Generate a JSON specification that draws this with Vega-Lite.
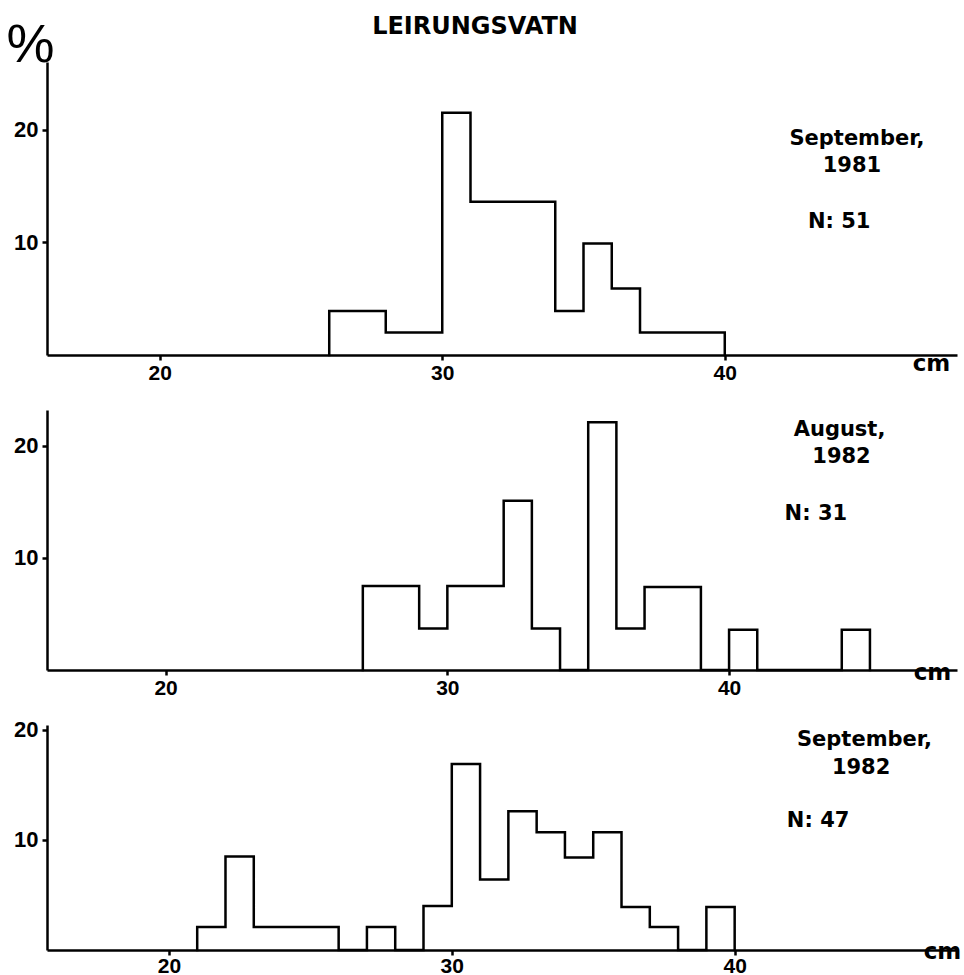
{
  "$schema": "https://vega.github.io/schema/vega-lite/v6.json",
  "background": "white",
  "padding": {"left": 5, "top": 15, "right": 0, "bottom": 0},
  "bounds": "flush",
  "spacing": 55,
  "config": {
    "view": {"stroke": null},
    "axis": {
      "grid": false,
      "domainColor": "black",
      "domainWidth": 2.5,
      "tickColor": "black",
      "tickWidth": 2.5,
      "tickSize": 5,
      "labelColor": "black",
      "labelFont": "Liberation Sans",
      "labelFontWeight": "bold",
      "labelFontSize": 21,
      "titleColor": "black"
    },
    "axisY": {"labelPadding": 4, "labelFontSize": 22},
    "axisX": {"labelPadding": 2}
  },
  "datasets": {
    "hist": [
      {"panel": 1, "seq": 1, "len": 26, "pct": 0},
      {"panel": 1, "seq": 2, "len": 26, "pct": 3.9},
      {"panel": 1, "seq": 3, "len": 28, "pct": 2.0},
      {"panel": 1, "seq": 4, "len": 30, "pct": 21.5},
      {"panel": 1, "seq": 5, "len": 31, "pct": 13.6},
      {"panel": 1, "seq": 6, "len": 34, "pct": 3.9},
      {"panel": 1, "seq": 7, "len": 35, "pct": 9.9},
      {"panel": 1, "seq": 8, "len": 36, "pct": 5.9},
      {"panel": 1, "seq": 9, "len": 37, "pct": 2.0},
      {"panel": 1, "seq": 10, "len": 40, "pct": 0},

      {"panel": 2, "seq": 1, "len": 27, "pct": 0},
      {"panel": 2, "seq": 2, "len": 27, "pct": 7.5},
      {"panel": 2, "seq": 3, "len": 29, "pct": 3.7},
      {"panel": 2, "seq": 4, "len": 30, "pct": 7.5},
      {"panel": 2, "seq": 5, "len": 32, "pct": 15.1},
      {"panel": 2, "seq": 6, "len": 33, "pct": 3.7},
      {"panel": 2, "seq": 7, "len": 34, "pct": 0},
      {"panel": 2, "seq": 8, "len": 35, "pct": 22.1},
      {"panel": 2, "seq": 9, "len": 36, "pct": 3.7},
      {"panel": 2, "seq": 10, "len": 37, "pct": 7.4},
      {"panel": 2, "seq": 11, "len": 39, "pct": 0},
      {"panel": 2, "seq": 12, "len": 40, "pct": 3.6},
      {"panel": 2, "seq": 13, "len": 41, "pct": 0},
      {"panel": 2, "seq": 14, "len": 44, "pct": 3.6},
      {"panel": 2, "seq": 15, "len": 45, "pct": 0},

      {"panel": 3, "seq": 1, "len": 21, "pct": 0},
      {"panel": 3, "seq": 2, "len": 21, "pct": 2.1},
      {"panel": 3, "seq": 3, "len": 22, "pct": 8.5},
      {"panel": 3, "seq": 4, "len": 23, "pct": 2.1},
      {"panel": 3, "seq": 5, "len": 26, "pct": 0},
      {"panel": 3, "seq": 6, "len": 27, "pct": 2.1},
      {"panel": 3, "seq": 7, "len": 28, "pct": 0},
      {"panel": 3, "seq": 8, "len": 29, "pct": 4.0},
      {"panel": 3, "seq": 9, "len": 30, "pct": 16.9},
      {"panel": 3, "seq": 10, "len": 31, "pct": 6.4},
      {"panel": 3, "seq": 11, "len": 32, "pct": 12.6},
      {"panel": 3, "seq": 12, "len": 33, "pct": 10.7},
      {"panel": 3, "seq": 13, "len": 34, "pct": 8.4},
      {"panel": 3, "seq": 14, "len": 35, "pct": 10.7},
      {"panel": 3, "seq": 15, "len": 36, "pct": 3.9},
      {"panel": 3, "seq": 16, "len": 37, "pct": 2.1},
      {"panel": 3, "seq": 17, "len": 38, "pct": 0},
      {"panel": 3, "seq": 18, "len": 39, "pct": 3.9},
      {"panel": 3, "seq": 19, "len": 40, "pct": 0}
    ],
    "notes": [
      {"panel": 1, "len": 44.68, "pct": 19.2, "label": "September,"},
      {"panel": 1, "len": 44.5, "pct": 16.8, "label": "1981"},
      {"panel": 1, "len": 44.05, "pct": 11.8, "label": "N: 51"},
      {"panel": 2, "len": 43.92, "pct": 21.4, "label": "August,"},
      {"panel": 2, "len": 43.99, "pct": 19.0, "label": "1982"},
      {"panel": 2, "len": 43.08, "pct": 13.96, "label": "N: 31"},
      {"panel": 3, "len": 44.59, "pct": 19.1, "label": "September,"},
      {"panel": 3, "len": 44.47, "pct": 16.5, "label": "1982"},
      {"panel": 3, "len": 42.95, "pct": 11.7, "label": "N: 47"}
    ],
    "heading": [
      {"len": 31.16, "pct": 28.48, "label": "LEIRUNGSVATN"}
    ]
  },
  "vconcat": [
    {
      "width": 910,
      "height": 293,
      "layer": [
        {
          "data": {"name": "hist"},
          "transform": [{"filter": "datum.panel == 1"}],
          "mark": {"type": "line", "interpolate": "step-after", "color": "black", "strokeWidth": 2.5, "strokeCap": "square"},
          "encoding": {
            "x": {"field": "len", "type": "quantitative", "scale": {"domain": [16.01, 48.22], "nice": false, "zero": false},
              "axis": {"values": [20, 30, 40], "title": "cm", "titleX": 884, "titleY": 15, "titleAlign": "center", "titleBaseline": "alphabetic", "titleFont": "DejaVu Sans", "titleFontSize": 23, "titleFontWeight": "bold"}},
            "y": {"field": "pct", "type": "quantitative", "scale": {"domain": [0, 26.0], "nice": false},
              "axis": {"values": [10, 20], "title": "%", "titleAngle": 0, "titleX": -17, "titleY": -17, "titleAlign": "center", "titleBaseline": "middle", "titleFont": "Liberation Sans", "titleFontSize": 54, "titleFontWeight": "normal"}},
            "order": {"field": "seq", "type": "quantitative"}
          }
        },
        {
          "data": {"name": "notes"},
          "transform": [{"filter": "datum.panel == 1"}],
          "mark": {"type": "text", "font": "DejaVu Sans", "fontWeight": "bold", "fontSize": 21, "align": "center", "baseline": "middle", "color": "black"},
          "encoding": {
            "x": {"field": "len", "type": "quantitative"},
            "y": {"field": "pct", "type": "quantitative"},
            "text": {"field": "label", "type": "nominal"}
          }
        },
        {
          "data": {"name": "heading"},
          "mark": {"type": "text", "font": "DejaVu Sans", "fontWeight": "bold", "fontSize": 24, "align": "center", "baseline": "alphabetic", "color": "black"},
          "encoding": {
            "x": {"field": "len", "type": "quantitative"},
            "y": {"field": "pct", "type": "quantitative"},
            "text": {"field": "label", "type": "nominal"}
          }
        }
      ]
    },
    {
      "width": 910,
      "height": 260,
      "layer": [
        {
          "data": {"name": "hist"},
          "transform": [{"filter": "datum.panel == 2"}],
          "mark": {"type": "line", "interpolate": "step-after", "color": "black", "strokeWidth": 2.5, "strokeCap": "square"},
          "encoding": {
            "x": {"field": "len", "type": "quantitative", "scale": {"domain": [15.79, 48.09], "nice": false, "zero": false},
              "axis": {"values": [20, 30, 40], "title": "cm", "titleX": 885, "titleY": 9, "titleAlign": "center", "titleBaseline": "alphabetic", "titleFont": "DejaVu Sans", "titleFontSize": 23, "titleFontWeight": "bold"}},
            "y": {"field": "pct", "type": "quantitative", "scale": {"domain": [0, 23.2], "nice": false},
              "axis": {"values": [10, 20], "title": null}},
            "order": {"field": "seq", "type": "quantitative"}
          }
        },
        {
          "data": {"name": "notes"},
          "transform": [{"filter": "datum.panel == 2"}],
          "mark": {"type": "text", "font": "DejaVu Sans", "fontWeight": "bold", "fontSize": 21, "align": "center", "baseline": "middle", "color": "black"},
          "encoding": {
            "x": {"field": "len", "type": "quantitative"},
            "y": {"field": "pct", "type": "quantitative"},
            "text": {"field": "label", "type": "nominal"}
          }
        }
      ]
    },
    {
      "width": 910,
      "height": 225,
      "layer": [
        {
          "data": {"name": "hist"},
          "transform": [{"filter": "datum.panel == 3"}],
          "mark": {"type": "line", "interpolate": "step-after", "color": "black", "strokeWidth": 2.5, "strokeCap": "square"},
          "encoding": {
            "x": {"field": "len", "type": "quantitative", "scale": {"domain": [15.69, 47.86], "nice": false, "zero": false},
              "axis": {"values": [20, 30, 40], "labelPadding": 0, "title": "cm", "titleX": 895, "titleY": 8, "titleAlign": "center", "titleBaseline": "alphabetic", "titleFont": "DejaVu Sans", "titleFontSize": 23, "titleFontWeight": "bold"}},
            "y": {"field": "pct", "type": "quantitative", "scale": {"domain": [0, 20.45], "nice": false},
              "axis": {"values": [10, 20], "title": null}},
            "order": {"field": "seq", "type": "quantitative"}
          }
        },
        {
          "data": {"name": "notes"},
          "transform": [{"filter": "datum.panel == 3"}],
          "mark": {"type": "text", "font": "DejaVu Sans", "fontWeight": "bold", "fontSize": 21, "align": "center", "baseline": "middle", "color": "black"},
          "encoding": {
            "x": {"field": "len", "type": "quantitative"},
            "y": {"field": "pct", "type": "quantitative"},
            "text": {"field": "label", "type": "nominal"}
          }
        }
      ]
    }
  ]
}
